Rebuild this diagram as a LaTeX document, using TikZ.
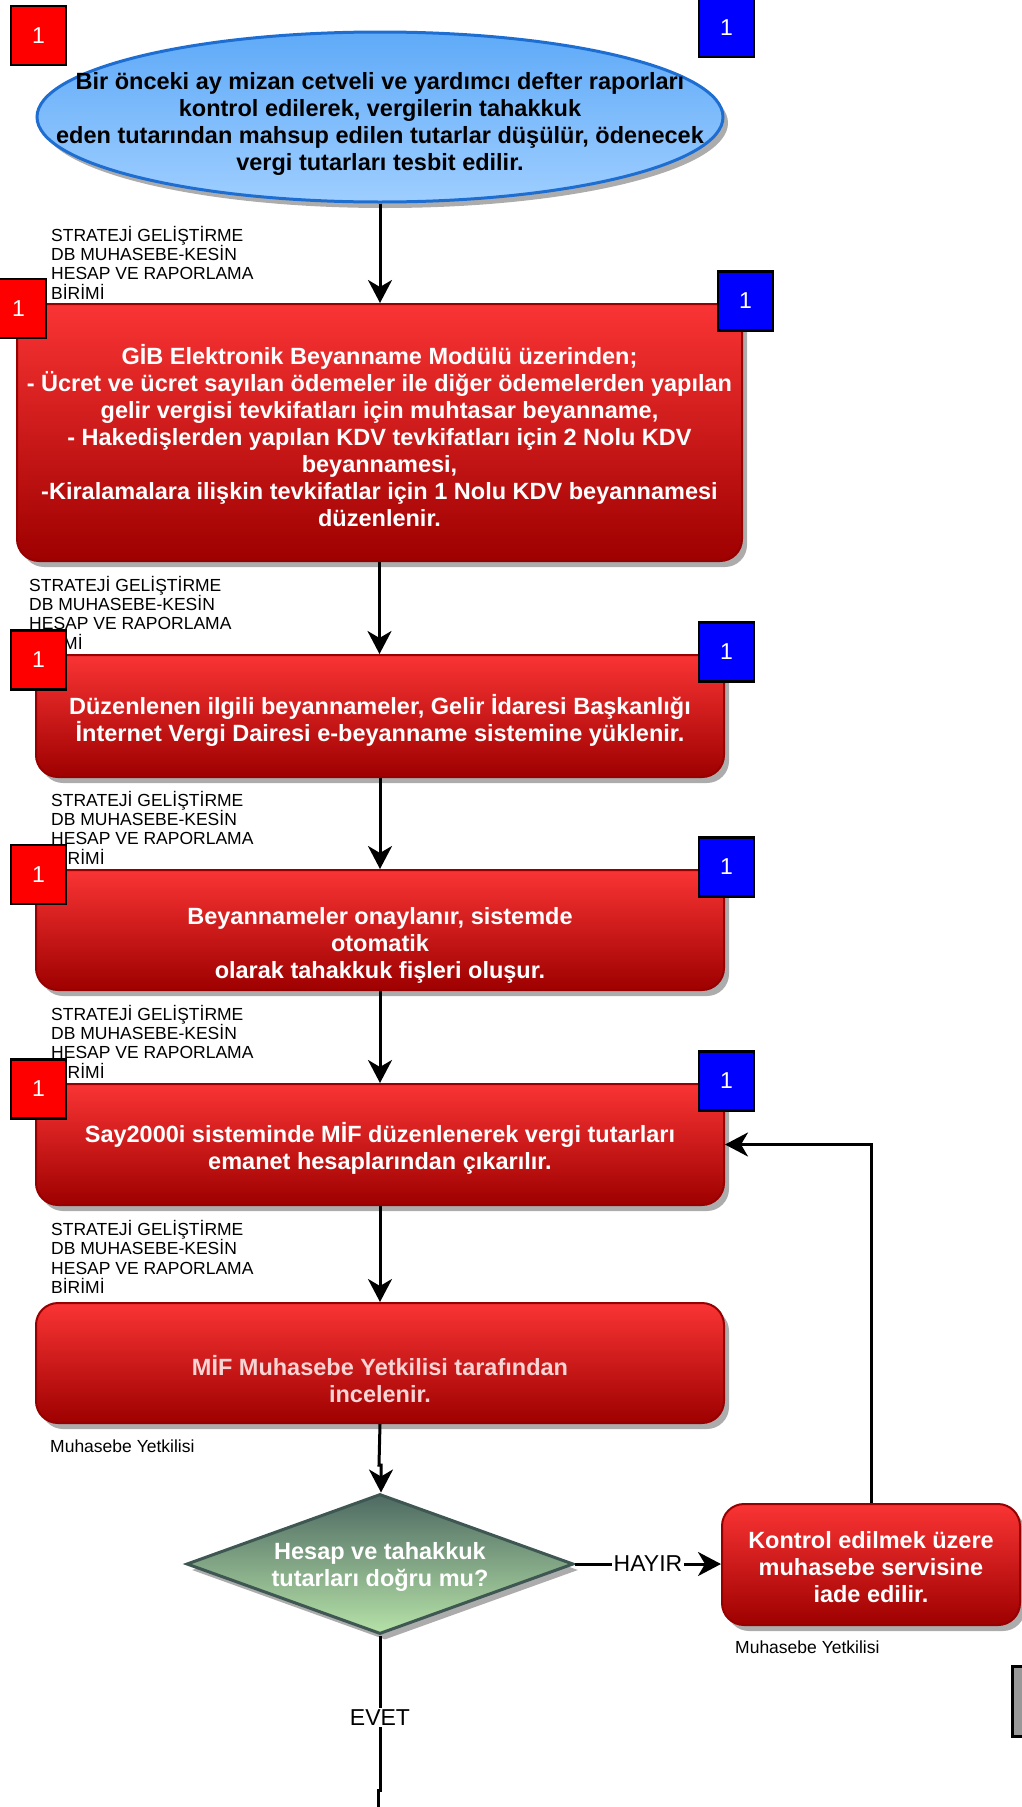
\documentclass[tikz,border=0pt]{standalone}
\usepackage{fontspec}
\setmainfont{Liberation Sans}
\usetikzlibrary{shapes.geometric,shadows,arrows.meta,calc}
\definecolor{rtop}{RGB}{250,52,52}
\definecolor{rbot}{RGB}{158,0,0}
\definecolor{rborder}{RGB}{150,0,0}
\definecolor{shgray}{RGB}{172,172,172}
\definecolor{etop}{RGB}{95,170,248}
\definecolor{ebot}{RGB}{158,206,255}
\definecolor{eborder}{RGB}{30,110,210}
\definecolor{dtop}{RGB}{78,106,98}
\definecolor{dbot}{RGB}{182,226,168}
\definecolor{dborder}{RGB}{62,87,82}
\definecolor{pale}{RGB}{248,212,212}
\definecolor{boxgray}{RGB}{152,152,152}
\begin{document}
\begin{tikzpicture}[x=1pt,y=-1pt,
  redbox/.style={rectangle, rounded corners=22pt, draw=rborder, line width=2pt,
    top color=rtop, bottom color=rbot, minimum width=688pt, minimum height=120pt, inner sep=0pt,
    drop shadow={shadow xshift=5pt,shadow yshift=-6pt,fill=shgray,opacity=1}},
  boxtxt/.style={align=center, font=\bfseries\fontsize{23.5}{27}\selectfont, text=white, inner sep=0pt},
  lbl/.style={align=left, anchor=north west, font=\fontsize{17.5}{19.3}\selectfont, inner sep=0pt},
  sqr/.style={rectangle, draw=black, line width=2.5pt, minimum width=55pt, minimum height=59pt,
    inner sep=0pt, text=white, font=\fontsize{23}{23}\selectfont},
  arr/.style={line width=3pt, -{Stealth[length=23pt,width=24pt,inset=7pt]}},
  ln/.style={line width=3pt},
  edgelbl/.style={fill=white, inner sep=1.5pt, font=\fontsize{23}{23}\selectfont},
]
\useasboundingbox (0,0) rectangle (1021,1807);

% shapes
\node[ellipse, draw=eborder, line width=3pt, top color=etop, bottom color=ebot,
  minimum width=686pt, minimum height=170pt, inner sep=0pt,
  drop shadow={shadow xshift=5pt,shadow yshift=-6pt,fill=shgray,opacity=1}] (start) at (380,117) {};
\node[redbox, minimum width=725pt, minimum height=257pt] (b1) at (379.5,432.5) {};
\node[redbox, minimum height=122pt] (b2) at (380,716) {};
\node[redbox] (b3) at (380,930) {};
\node[redbox, minimum height=121pt] (b4) at (380,1144.5) {};
\node[redbox] (b5) at (380,1363) {};
\node[diamond, draw=dborder, line width=3pt, top color=dtop, bottom color=dbot,
  minimum width=387pt, minimum height=140pt, inner sep=0pt,
  drop shadow={shadow xshift=5pt,shadow yshift=-6pt,fill=shgray,opacity=1}] (dia) at (380,1564) {};
\node[redbox, minimum width=298pt, minimum height=121pt] (b6) at (871,1564.5) {};
\node[rectangle, fill=boxgray, draw=black, line width=3pt, minimum width=40pt, minimum height=70pt] (gb) at (1032,1701) {};

% texts
\node[boxtxt, text=black] (t0) at (380,123.5) {Bir önceki ay mizan cetveli ve yardımcı defter raporları\\kontrol edilerek, vergilerin tahakkuk\\eden tutarından mahsup edilen tutarlar düşülür, ödenecek\\vergi tutarları tesbit edilir.};
\node[boxtxt] (t1) at (379.5,436) {GİB Elektronik Beyanname Modülü üzerinden;\\- Ücret ve ücret sayılan ödemeler ile diğer ödemelerden yapılan\\gelir vergisi tevkifatları için muhtasar beyanname,\\- Hakedişlerden yapılan KDV tevkifatları için 2 Nolu KDV\\beyannamesi,\\-Kiralamalara ilişkin tevkifatlar için 1 Nolu KDV beyannamesi\\düzenlenir.};
\node[boxtxt] (t2) at (380,720) {Düzenlenen ilgili beyannameler, Gelir İdaresi Başkanlığı\\İnternet Vergi Dairesi e-beyanname sistemine yüklenir.};
\node[boxtxt] (t3) at (380,945.5) {Beyannameler onaylanır, sistemde\\otomatik\\olarak tahakkuk fişleri oluşur.};
\node[boxtxt] (t4) at (380,1148.5) {Say2000i sisteminde MİF düzenlenerek vergi tutarları\\emanet hesaplarından çıkarılır.};
\node[boxtxt, text=pale] (t5) at (380,1379) {MİF Muhasebe Yetkilisi tarafından\\incelenir.};
\node[boxtxt] (td) at (380,1566.5) {Hesap ve tahakkuk\\tutarları doğru mu?};
\node[boxtxt] (t6) at (871,1567) {Kontrol edilmek üzere\\muhasebe servisine\\iade edilir.};

% labels
\node[lbl] (l1) at (51,226) {STRATEJİ GELİŞTİRME\\DB MUHASEBE-KESİN\\HESAP VE RAPORLAMA\\BİRİMİ};
\node[lbl] (l2) at (29,576) {STRATEJİ GELİŞTİRME\\DB MUHASEBE-KESİN\\HESAP VE RAPORLAMA\\BİRİMİ};
\node[lbl] (l3) at (51,791) {STRATEJİ GELİŞTİRME\\DB MUHASEBE-KESİN\\HESAP VE RAPORLAMA\\BİRİMİ};
\node[lbl] (l4) at (51,1005) {STRATEJİ GELİŞTİRME\\DB MUHASEBE-KESİN\\HESAP VE RAPORLAMA\\BİRİMİ};
\node[lbl] (l5) at (51,1220) {STRATEJİ GELİŞTİRME\\DB MUHASEBE-KESİN\\HESAP VE RAPORLAMA\\BİRİMİ};
\node[lbl] (m1) at (50,1440) {Muhasebe Yetkilisi};
\node[lbl] (m2) at (735,1641) {Muhasebe Yetkilisi};

% connectors
\draw[arr] (start.south) -- (start.south |- b1.north);
\draw[arr] (b1.south) -- (b1.south |- b2.north);
\draw[arr] (b2.south) -- (b2.south |- b3.north);
\draw[arr] (b3.south) -- (b3.south |- b4.north);
\draw[arr] (b4.south) -- (b4.south |- b5.north);
\coordinate (j1) at (379,1465);
\coordinate (j2) at (381,1465);
\draw[arr] (b5.south) -- (j1) -- (j2) -- (j2 |- dia.north);
\draw[arr] (dia.east) -- node[edgelbl] (hayir) {HAYIR} (dia.east -| b6.west);
\draw[arr] (b6.north) |- (b4.east);
\coordinate (e1) at (380,1790);
\coordinate (e2) at (378,1790);
\coordinate (e3) at (378,1812);
\draw[ln] (dia.south) -- node[edgelbl, pos=0.53] (evet) {EVET} (e1) -- (e2) -- (e3);

% small squares
\node[sqr, fill=red] (r1) at (38.5,35.5) {1};
\node[sqr, fill=blue] (q1) at (726.5,27.5) {1};
\node[sqr, fill=red] (r2) at (18.5,308.5) {1};
\node[sqr, fill=blue] (q2) at (745.5,301) {1};
\node[sqr, fill=red] (r3) at (38.5,660) {1};
\node[sqr, fill=blue] (q3) at (726.5,652) {1};
\node[sqr, fill=red] (r4) at (38.5,874.5) {1};
\node[sqr, fill=blue] (q4) at (726.5,867) {1};
\node[sqr, fill=red] (r5) at (38.5,1089) {1};
\node[sqr, fill=blue] (q5) at (726.5,1081) {1};
\end{tikzpicture}
\end{document}
